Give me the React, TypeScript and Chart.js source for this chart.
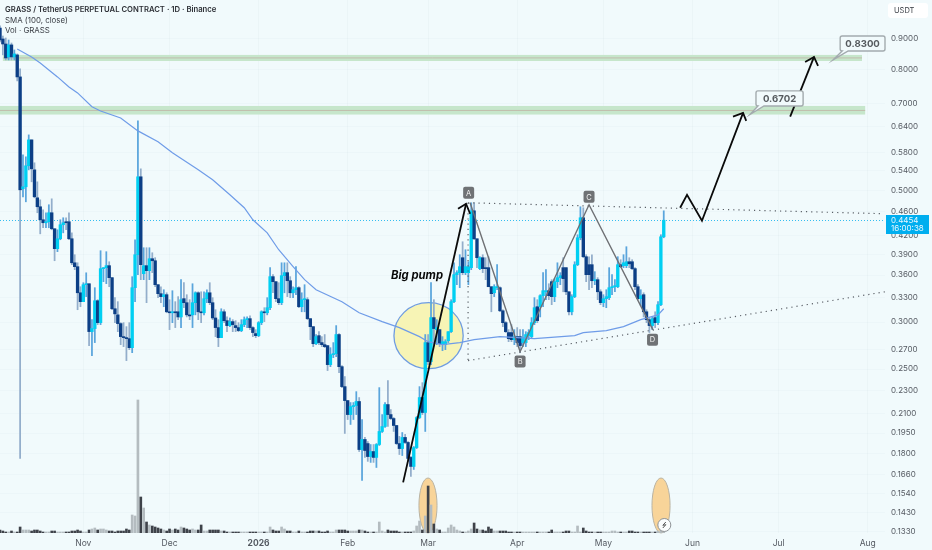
import React, { useEffect, useRef } from "react";
import { Chart, registerables } from "chart.js";

Chart.register(...registerables);

const opens = [
  .9392,.9000,.8827,.8395,.8795,.8395,.8460,.7768,.5032,.5071,
  .5502,.6084,.5416,.4859,.4693,.4462,.4411,.4428,.4585,.4309,
  .3988,.4145,.4377,.4428,.4428,.4145,.3776,.3719,.3361,.3247,
  .3468,.3481,.2891,.2925,.3259,.2993,.3691,.3705,.3734,.3564,
  .3159,.3085,.2982,.2835,.2824,.2813,.2716,.3428,.3896,.5272,
  .3619,.3734,.3662,.3836,.3806,.3468,.3349,.3311,.3336,.3122,
  .3110,.3122,.3122,.3060,.3285,.3234,.3085,.3085,.3234,.3361,
  .3122,.3110,.3285,.3361,.3234,.3048,.2936,.2824,.3122,.3016,
  .2959,.3005,.2959,.2936,.2902,.2970,.3028,.3040,.2936,.2869,
  .2846,.2993,.3122,.3110,.3172,.3578,.3509,.3285,.3234,.3592,
  .3634,.3522,.3361,.3401,.3428,.3184,.3272,.3272,.3040,.2947,
  .2758,.2846,.2770,.2748,.2738,.2543,.2644,.2654,.2858,.2523,
  .2335,.2212,.2095,.2161,.2170,.2204,.1829,.1902,.1872,.1780,
  .1815,.1774,.1865,.1962,.2000,.2178,.2095,.2063,.2008,.1872,
  .1836,.1917,.1880,.1774,.1713,.1843,.2071,.2238,.2112,.2770,
  .2573,.3052,.2913,.2913,.2758,.2748,.2791,.2890,.3247,.3606,
  .3634,.3851,.3634,.3634,.3705,.4620,.4145,.3691,.3851,.3705,
  .3705,.3441,.3361,.3428,.3428,.3134,.2993,.2880,.2880,.2802,
  .2835,.2835,.2770,.2770,.2846,.2835,.2993,.3184,.3184,.3323,
  .3374,.3388,.3509,.3311,.3509,.3564,.3705,.3705,.3374,.3122,
  .3311,.3748,.4161,.4497,.3866,.3748,.3748,.3522,.3536,.3374,
  .3234,.3285,.3298,.3428,.3441,.3441,.3748,.3734,.3734,.3791,
  .3791,.3691,.3441,.3285,.3336,.3122,.3028,.2959,.3052,.2993,
  .3209,.4177,
];
const highs = [
  .9467,.9105,.9035,.8965,.8861,.8625,.8493,.8012,.5741,.5697,
  .6203,.6084,.5566,.5170,.4821,.4638,.4585,.4730,.4840,.4309,
  .4292,.4462,.4497,.4497,.4585,.4241,.3896,.3776,.3441,.3495,
  .3632,.3481,.3028,.3428,.3272,.3957,.3705,.3942,.3791,.3564,
  .3298,.3247,.2993,.2993,.2947,.2993,.3578,.4129,.6550,.5437,
  .4003,.4003,.4003,.3926,.3851,.3468,.3441,.3401,.3361,.3272,
  .3388,.3247,.3311,.3536,.3495,.3336,.3272,.3481,.3374,.3374,
  .3374,.3374,.3401,.3495,.3298,.3147,.3028,.3159,.3147,.3060,
  .3048,.3028,.3016,.2993,.3028,.3060,.3060,.3072,.2947,.2913,
  .3005,.3134,.3172,.3298,.3705,.3606,.3509,.3495,.3776,.3776,
  .3776,.3578,.3441,.3719,.3441,.3361,.3468,.3298,.3040,.2947,
  .2858,.2890,.2835,.2858,.2738,.2716,.2770,.2959,.2869,.2533,
  .2428,.2212,.2195,.2195,.2290,.2238,.2055,.1917,.1887,.1865,
  .1865,.1872,.2326,.2095,.2195,.2390,.2136,.2071,.2008,.1925,
  .1954,.1940,.1887,.1781,.1851,.2079,.2335,.2371,.2858,.2858,
  .3495,.3272,.3028,.2913,.2835,.2802,.2890,.3272,.3776,.3662,
  .3896,.4097,.3972,.3791,.4766,.4766,.4145,.3866,.3896,.3851,
  .3866,.3441,.3468,.3748,.3441,.3147,.3005,.2913,.2970,.2913,
  .2936,.2913,.2913,.2890,.2913,.3052,.3298,.3272,.3336,.3634,
  .3676,.3481,.3536,.3550,.3776,.3634,.3851,.3705,.3374,.3336,
  .3791,.4210,.4693,.4675,.3896,.3866,.3896,.3648,.3564,.3401,
  .3336,.3401,.3705,.3606,.3536,.3866,.3821,.3896,.4019,.3851,
  .3821,.3705,.3468,.3401,.3361,.3147,.3052,.3060,.3122,.3247,
  .4210,.4620,
];
const lows = [
  .8896,.8462,.8296,.8296,.8296,.8296,.7648,.1767,.4878,.4784,
  .5416,.5170,.4859,.4585,.4225,.4326,.4326,.4326,.4292,.3806,
  .3942,.4129,.4241,.4292,.4129,.3748,.3676,.3147,.3184,.3247,
  .3311,.2738,.2634,.2770,.2970,.2970,.3509,.3482,.3441,.3147,
  .2993,.2890,.2748,.2727,.2583,.2695,.2664,.3247,.3606,.3536,
  .3536,.3234,.3536,.3634,.3441,.3298,.3234,.3184,.3110,.2913,
  .2993,.2936,.3028,.2936,.3172,.3060,.3028,.2936,.3085,.3028,
  .2993,.3085,.3234,.3209,.3028,.2835,.2727,.2824,.2993,.2890,
  .2947,.2890,.2890,.2890,.2890,.2947,.2936,.2913,.2835,.2824,
  .2835,.2970,.3005,.3085,.3147,.3361,.3247,.3209,.3209,.3361,
  .3311,.3298,.3298,.3336,.3172,.3122,.3122,.3028,.2802,.2727,
  .2748,.2748,.2727,.2716,.2485,.2523,.2613,.2623,.2466,.2326,
  .1947,.2055,.2016,.2055,.2095,.1815,.1623,.1774,.1747,.1740,
  .1740,.1706,.1858,.1954,.1993,.2000,.2055,.1962,.1865,.1794,
  .1787,.1872,.1747,.1648,.1693,.1836,.2063,.2095,.1962,.2543,
  .2543,.2748,.2748,.2727,.2685,.2695,.2770,.2880,.3234,.3468,
  .3428,.3606,.3606,.3468,.3676,.4129,.3705,.3676,.3634,.3536,
  .3441,.3122,.3311,.3401,.3122,.2947,.2880,.2780,.2780,.2748,
  .2727,.2664,.2727,.2727,.2802,.2824,.2970,.2993,.3060,.3184,
  .3272,.3272,.3209,.3247,.3428,.3468,.3374,.3336,.3085,.3085,
  .3298,.3734,.4129,.3851,.3509,.3401,.3428,.3468,.3272,.3209,
  .3184,.3172,.3272,.3336,.3374,.3428,.3705,.3705,.3705,.3705,
  .3676,.3401,.3272,.3197,.3060,.2993,.2880,.2913,.2936,.2970,
  .3197,.4161,
];
const closes = [
  .8965,.8827,.8362,.8795,.8395,.8493,.7768,.5012,.5071,.5502,
  .6084,.5437,.4878,.4693,.4462,.4411,.4428,.4585,.4309,.3988,
  .4145,.4377,.4411,.4411,.4145,.3776,.3719,.3361,.3247,.3468,
  .3481,.2891,.2925,.3259,.2993,.3691,.3705,.3734,.3564,.3159,
  .3097,.2982,.2835,.2824,.2813,.2716,.3428,.3896,.5272,.3748,
  .3734,.3662,.3836,.3806,.3468,.3349,.3311,.3336,.3122,.3110,
  .3122,.3110,.3060,.3272,.3234,.3085,.3072,.3234,.3361,.3122,
  .3110,.3285,.3361,.3234,.3048,.2936,.2824,.3122,.3016,.2959,
  .3005,.2970,.2936,.2902,.2970,.3028,.3040,.2936,.2880,.2846,
  .2993,.3122,.3110,.3172,.3578,.3509,.3285,.3234,.3592,.3634,
  .3522,.3361,.3401,.3428,.3184,.3272,.3285,.3040,.2947,.2758,
  .2835,.2770,.2748,.2727,.2543,.2644,.2654,.2858,.2523,.2335,
  .2212,.2095,.2161,.2170,.2204,.1829,.1902,.1822,.1780,.1815,
  .1774,.1865,.1962,.2000,.2178,.2095,.2063,.2008,.1872,.1836,
  .1917,.1880,.1767,.1713,.1843,.2071,.2238,.2112,.2770,.2573,
  .3052,.2925,.2936,.2758,.2780,.2780,.2890,.3247,.3606,.3634,
  .3719,.3634,.3719,.3719,.4620,.4145,.3851,.3851,.3691,.3691,
  .3441,.3349,.3441,.3441,.3134,.2993,.2890,.2813,.2802,.2835,
  .2770,.2738,.2824,.2858,.2880,.2993,.3172,.3016,.3323,.3388,
  .3388,.3323,.3311,.3509,.3564,.3592,.3550,.3374,.3122,.3311,
  .3748,.4161,.4497,.3866,.3606,.3606,.3522,.3536,.3374,.3234,
  .3285,.3311,.3428,.3441,.3455,.3748,.3719,.3776,.3791,.3761,
  .3691,.3441,.3285,.3323,.3122,.3028,.2959,.3040,.2993,.3209,
  .4177,.4454,
];
const volumes = [
  3,2,1,1,2,1,1,6,3,3,
  3,2,3,3,2,1,1,1,2,2,
  1,1,1,1,1,2,2,3,2,1,
  1,3,4,5,3,4,4,3,2,2,
  1,2,2,2,4,3,18,17,133,36,
  25,11,8,7,6,5,4,3,2,4,
  3,4,3,6,5,4,3,4,3,3,
  8,2,2,3,3,3,3,2,2,1,
  1,1,1,1,1,1,1,1,1,1,
  1,1,1,1,6,3,2,2,6,4,
  2,2,1,1,2,1,1,1,2,2,
  2,2,1,1,2,1,1,3,3,3,
  3,2,2,2,2,3,3,2,1,1,
  1,1,11,2,1,3,2,2,2,1,
  1,1,1,1,2,7,12,3,17,47,
  28,9,4,3,1,1,5,8,6,3,
  2,1,1,2,4,10,4,3,3,2,
  6,4,2,2,2,2,2,1,1,1,
  1,1,1,1,1,1,1,1,1,1,
  1,1,3,1,1,1,1,2,2,1,
  1,7,1,5,2,1,1,1,1,1,
  1,1,1,2,2,1,1,1,1,2,
  2,1,1,1,1,1,1,1,1,2,
  8,11,
];

const smaDays = [6,11,14,20,24,27,32,35,42,48,55,60,69,74,80,85,88,93,97,102,106,110,119,125,133,139,146,149,154,160,165,174,186,200,203,211,217,223,229,231];
const smaValues = [.8658,.8394,.8200,.7768,.7472,.7300,.6920,.6805,.6625,.6300,.6038,.5787,.5416,.5210,.4916,.4675,.4462,.4241,.3972,.3719,.3536,.3401,.3247,.3110,.3005,.2936,.2835,.2780,.2748,.2770,.2802,.2835,.2813,.2846,.2880,.2902,.2947,.3028,.3085,.3159];

const priceTicks = [.9,.8,.7,.64,.58,.54,.5,.46,.42,.39,.36,.33,.3,.27,.25,.23,.21,.195,.18,.166,.154,.143,.133];

const monthLabels: Record<string, string> = {
  "2025-11-01": "Nov", "2025-12-01": "Dec", "2026-01-01": "2026", "2026-02-01": "Feb", "2026-03-01": "Mar",
  "2026-04-01": "Apr", "2026-05-01": "May", "2026-06-01": "Jun", "2026-07-01": "Jul", "2026-08-01": "Aug",
};

const dayCount = 309;
const days: string[] = [];
for (let d = 0; d < dayCount; d++) {
  days.push(new Date(Date.UTC(2025, 9, 3 + d)).toISOString().slice(0, 10));
}

const titleLines = ["GRASS / TetherUS PERPETUAL CONTRACT · 1D · Binance", "SMA (100, close)", "Vol · GRASS"];
const countdown = "16:00:38";

// drawings, in [day index, price]
const zones = [
  { from: 1, to: 300, top: .846, bottom: .8263, mid: .8362 },
  { from: 0, to: 301.1, top: .694, bottom: .6712, mid: .682 },
];
const pumpCircle = { from: 137.1, to: 161.2, top: .3234, bottom: .2504 };
const volumeOvals = [
  { from: 145.8, to: 152.1, top: 55, bottom: 0 },
  { from: 226.9, to: 233.2, top: 55, bottom: 0 },
];
const dottedLines = [
  [[162.9, .4766], [307.3, .4568]],
  [[162.9, .4766], [162.9, .2583]],
  [[162.9, .2583], [308, .3374]],
];
const abcdPath = [[163.6, .4766], [181, .2674], [205, .473], [227.2, .2913]];
const abcdTags = [
  { text: "A", day: 163.1, price: .4955 },
  { text: "B", day: 181, price: .2573 },
  { text: "C", day: 205, price: .4878 },
  { text: "D", day: 227.1, price: .2802 },
];
const arrows = [
  { path: [[140.3, .161], [162.2, .4748]], wings: [[159.4, .4656], [163.6, .4568]] },
  { path: [[236.7, .4675], [239.1, .4916], [244.3, .4445], [258.6, .6755]], wings: [[255.1, .666], [259.7, .655]] },
  { path: [[275, .666], [283.3, .8394]], wings: [[280.2, .823], [284.7, .8105]] },
];
const callouts = [
  { text: "0.6702", tipDay: 261, tipPrice: .6712, from: 263.1, to: 279.5, top: .7357, bottom: .694 },
  { text: "0.8300", tipDay: 289.9, tipPrice: .8296, from: 292.4, to: 308, top: .9105, bottom: .8592 },
];
const pumpNote = { text: "Big pump", day: 136.1, price: .3592 };
const flashMark = { day: 231.2, volume: 8 };

const upBody = "#00cff2";
const downBody = "#0c3f86";
const upWick = "#5aa5dc";
const downWick = "#93aecb";
const upVol = "#b4bcc0";
const downVol = "#3e4249";
const background = "#f1fafc";
const uiFont = "Inter, 'Noto Sans', sans-serif";

const drawings = {
  id: "drawings",
  beforeDatasetsDraw(chart: any) {
    const { ctx, scales } = chart;
    const X = (d: number) => scales.x.getPixelForValue(d);
    const Y = (p: number) => scales.y.getPixelForValue(p);
    const V = (v: number) => scales.y2.getPixelForValue(v);
    ctx.save();
    zones.forEach((z) => {
      ctx.fillStyle = "#c6e6cb";
      ctx.fillRect(X(z.from), Y(z.top), X(z.to) - X(z.from), Y(z.bottom) - Y(z.top));
      ctx.strokeStyle = "rgba(190,170,160,0.7)";
      ctx.lineWidth = 1;
      ctx.beginPath();
      ctx.moveTo(X(z.from), Y(z.mid));
      ctx.lineTo(X(z.to), Y(z.mid));
      ctx.stroke();
    });
    // current-price line
    ctx.strokeStyle = "#35bdf0";
    ctx.lineWidth = 1;
    ctx.setLineDash([1, 2]);
    ctx.beginPath();
    const lastY = Math.round(Y(closes[closes.length - 1])) + 0.5;
    ctx.moveTo(0, lastY);
    ctx.lineTo(chart.chartArea.right, lastY);
    ctx.stroke();
    ctx.setLineDash([]);
    // yellow circle
    const l = X(pumpCircle.from), r = X(pumpCircle.to), t = Y(pumpCircle.top), b = Y(pumpCircle.bottom);
    ctx.beginPath();
    ctx.ellipse((l + r) / 2, (t + b) / 2, (r - l) / 2, (b - t) / 2, 0, 0, Math.PI * 2);
    ctx.fillStyle = "#f7f4b5";
    ctx.fill();
    ctx.strokeStyle = "#6f9ce0";
    ctx.lineWidth = 1.3;
    ctx.stroke();
    // orange ovals
    volumeOvals.forEach((o) => {
      const ol = X(o.from), or = X(o.to), ot = V(o.top), ob = V(o.bottom);
      ctx.beginPath();
      ctx.ellipse((ol + or) / 2, (ot + ob) / 2, (or - ol) / 2, (ob - ot) / 2, 0, 0, Math.PI * 2);
      ctx.fillStyle = "#f8d499";
      ctx.fill();
      ctx.strokeStyle = "#b9b3a3";
      ctx.lineWidth = 1;
      ctx.stroke();
    });
    ctx.restore();
  },
  afterDatasetsDraw(chart: any) {
    const { ctx, scales } = chart;
    const X = (d: number) => scales.x.getPixelForValue(d);
    const Y = (p: number) => scales.y.getPixelForValue(p);
    const V = (v: number) => scales.y2.getPixelForValue(v);
    ctx.save();
    // dotted trendlines
    ctx.strokeStyle = "#5a5f66";
    ctx.lineWidth = 1.2;
    ctx.setLineDash([1.2, 4]);
    dottedLines.forEach((ln) => {
      ctx.beginPath();
      ctx.moveTo(X(ln[0][0]), Y(ln[0][1]));
      ctx.lineTo(X(ln[1][0]), Y(ln[1][1]));
      ctx.stroke();
    });
    ctx.setLineDash([]);
    // ABCD
    ctx.strokeStyle = "#6e7074";
    ctx.lineWidth = 1.4;
    ctx.beginPath();
    abcdPath.forEach((p, i) => (i ? ctx.lineTo(X(p[0]), Y(p[1])) : ctx.moveTo(X(p[0]), Y(p[1]))));
    ctx.stroke();
    abcdTags.forEach((tag) => {
      const cx = X(tag.day), cy = Y(tag.price);
      ctx.fillStyle = "#6f7275";
      ctx.beginPath();
      ctx.roundRect(cx - 5.5, cy - 6, 11, 12, 2);
      ctx.fill();
      ctx.fillStyle = "#f4f4f4";
      ctx.font = `7.5px ${uiFont}`;
      ctx.textAlign = "center";
      ctx.textBaseline = "middle";
      ctx.fillText(tag.text, cx, cy + 0.5);
    });
    // arrows
    ctx.strokeStyle = "#0a0a0a";
    ctx.lineWidth = 1.8;
    ctx.lineJoin = "miter";
    arrows.forEach((a) => {
      ctx.beginPath();
      a.path.forEach((p, i) => (i ? ctx.lineTo(X(p[0]), Y(p[1])) : ctx.moveTo(X(p[0]), Y(p[1]))));
      ctx.stroke();
      const tip = a.path[a.path.length - 1];
      ctx.beginPath();
      ctx.moveTo(X(a.wings[0][0]), Y(a.wings[0][1]));
      ctx.lineTo(X(tip[0]), Y(tip[1]));
      ctx.lineTo(X(a.wings[1][0]), Y(a.wings[1][1]));
      ctx.stroke();
    });
    // note
    ctx.fillStyle = "#0a0a0a";
    ctx.font = `italic 700 11.3px ${uiFont}`;
    ctx.textAlign = "left";
    ctx.textBaseline = "middle";
    ctx.fillText(pumpNote.text, X(pumpNote.day), Y(pumpNote.price));
    // callouts
    callouts.forEach((c) => {
      const l = X(c.from), r = X(c.to), t = Y(c.top), b = Y(c.bottom);
      ctx.fillStyle = background;
      ctx.strokeStyle = "#a3abae";
      ctx.lineWidth = 1.4;
      ctx.beginPath();
      ctx.moveTo(l + 2, t);
      ctx.lineTo(r - 2, t);
      ctx.quadraticCurveTo(r, t, r, t + 2);
      ctx.lineTo(r, b - 2);
      ctx.quadraticCurveTo(r, b, r - 2, b);
      ctx.lineTo(l + 8, b);
      ctx.lineTo(X(c.tipDay), Y(c.tipPrice));
      ctx.lineTo(l + 2, b);
      ctx.quadraticCurveTo(l, b, l, b - 2);
      ctx.lineTo(l, t + 2);
      ctx.quadraticCurveTo(l, t, l + 2, t);
      ctx.closePath();
      ctx.fill();
      ctx.stroke();
      ctx.fillStyle = "#555a5e";
      ctx.font = `700 9.6px ${uiFont}`;
      ctx.textAlign = "center";
      ctx.textBaseline = "middle";
      ctx.fillText(c.text, (l + r) / 2, (t + b) / 2 + 0.5);
    });
    // flash badge
    const fx = X(flashMark.day), fy = V(flashMark.volume);
    ctx.beginPath();
    ctx.arc(fx, fy, 6.5, 0, Math.PI * 2);
    ctx.fillStyle = "#fbfdfd";
    ctx.fill();
    ctx.strokeStyle = "#8d9296";
    ctx.lineWidth = 1;
    ctx.stroke();
    ctx.strokeStyle = "#555";
    ctx.beginPath();
    ctx.moveTo(fx + 1.5, fy - 3);
    ctx.lineTo(fx - 1.5, fy + 0.3);
    ctx.lineTo(fx + 1.5, fy - 0.3);
    ctx.lineTo(fx - 1.5, fy + 3);
    ctx.stroke();
    ctx.restore();
  },
  afterDraw(chart: any) {
    const { ctx } = chart;
    ctx.save();
    ctx.textAlign = "left";
    ctx.textBaseline = "middle";
    ctx.fillStyle = "#2c2f35";
    ctx.font = `600 7.7px ${uiFont}`;
    ctx.fillText(titleLines[0], 5, 10);
    ctx.font = `400 7.9px ${uiFont}`;
    ctx.fillStyle = "#3c4047";
    ctx.fillText(titleLines[1], 5, 20.5);
    ctx.fillText(titleLines[2], 5, 30.5);
    // unit box
    ctx.fillStyle = "#ffffff";
    ctx.beginPath();
    ctx.roundRect(888, 3, 40, 15, 3);
    ctx.fill();
    ctx.fillStyle = "#3c4047";
    ctx.font = `400 7.5px ${uiFont}`;
    ctx.fillText("USDT", 894, 11);
    // last price label
    ctx.fillStyle = "#00aeef";
    ctx.fillRect(886, 215, 43, 19);
    ctx.fillStyle = "#eaf8fe";
    ctx.font = `400 8px ${uiFont}`;
    ctx.fillText(closes[closes.length - 1].toFixed(4), 891, 220.5);
    ctx.fillText(countdown, 891, 229);
    ctx.restore();
  },
};

export default function App() {
  const ref = useRef<HTMLCanvasElement>(null);
  useEffect(() => {
    const isUp = closes.map((c, i) => c >= opens[i]);
    const sma: (number | null)[] = closes.map(() => null);
    smaDays.forEach((d, i) => (sma[d] = smaValues[i]));
    const chart = new Chart(ref.current as HTMLCanvasElement, {
      type: "bar",
      data: {
        labels: days,
        datasets: [
          {
            type: "line",
            data: sma,
            yAxisID: "y",
            spanGaps: true,
            borderColor: "#6f9ce8",
            borderWidth: 1.2,
            pointRadius: 0,
            order: 1,
          },
          {
            data: closes.map((c, i) => [Math.min(c, opens[i]), Math.max(c, opens[i])]),
            yAxisID: "y",
            backgroundColor: isUp.map((u) => (u ? upBody : downBody)),
            barThickness: 2.7,
            minBarLength: 1,
            grouped: false,
            order: 2,
          },
          {
            data: closes.map((_, i) => [lows[i], highs[i]]),
            yAxisID: "y",
            backgroundColor: isUp.map((u) => (u ? upWick : downWick)),
            barThickness: 1.1,
            grouped: false,
            order: 3,
          },
          {
            data: volumes,
            yAxisID: "y2",
            backgroundColor: isUp.map((u) => (u ? upVol : downVol)),
            barThickness: 2,
            grouped: false,
            order: 4,
          },
        ] as any,
      },
      options: {
        responsive: false,
        animation: false,
        events: [],
        layout: { padding: 0 },
        plugins: { legend: { display: false }, tooltip: { enabled: false }, title: { display: false } },
        scales: {
          x: {
            type: "category",
            offset: false,
            grid: { offset: false, color: "rgba(60,90,110,0.03)", drawTicks: false },
            border: { display: false },
            afterBuildTicks: (scale: any) => {
              scale.ticks = scale.ticks.filter((t: any) => monthLabels[days[t.value]]);
            },
            afterFit: (scale: any) => {
              scale.height = 17;
              scale.paddingLeft = 0;
              scale.paddingRight = 0;
            },
            ticks: {
              autoSkip: false,
              maxRotation: 0,
              padding: 5,
              color: "#555a62",
              font: (c: any) => ({
                family: uiFont,
                size: 8.5,
                weight: c.tick && monthLabels[days[c.tick.value]] === "2026" ? "700" : "400",
              }),
              callback: (v: any) => monthLabels[days[v]] ?? "",
            },
          },
          y: {
            type: "logarithmic",
            position: "right",
            min: 0.1323,
            max: 1.047,
            bounds: "data",
            grid: { color: "rgba(60,90,110,0.025)", drawTicks: false },
            border: { display: false },
            afterBuildTicks: (scale: any) => {
              scale.ticks = priceTicks.map((value) => ({ value }));
              scale.min = 0.1323;
              scale.max = 1.047;
            },
            afterFit: (scale: any) => {
              scale.width = 47;
              scale.paddingTop = 0;
              scale.paddingBottom = 0;
            },
            ticks: {
              autoSkip: false,
              padding: 6,
              crossAlign: "near",
              color: "#555a62",
              font: { family: uiFont, size: 8 },
              callback: (v: any) => Number(v).toFixed(4),
            },
          },
          y2: {
            type: "linear",
            display: false,
            min: 0,
            max: 533,
          },
        },
      } as any,
      plugins: [drawings as any],
    });
    return () => chart.destroy();
  }, []);
  return (
    <div style={{ position: "absolute", left: 0, top: 0, width: 932, height: 550, background, overflow: "hidden" }}>
      <canvas ref={ref} width={932} height={550} style={{ display: "block" }} />
    </div>
  );
}
